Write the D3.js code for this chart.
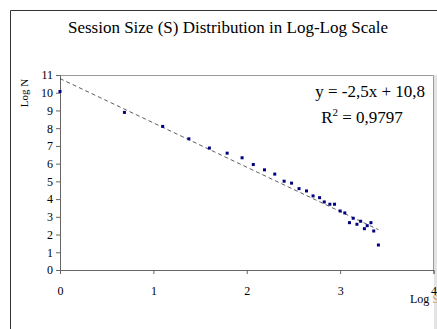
<!DOCTYPE html>
<html lang="en">
<head>
<meta charset="utf-8">
<title>Session Size (S) Distribution in Log-Log Scale</title>
<script src="https://d3js.org/d3.v7.min.js"></script>
<style>
  body { margin: 0; background: #fff; }
  svg text { font-family: "Liberation Serif", "Times New Roman", serif; }
</style>
</head>
<body>
<script>
// data (log S, log N)
const logS = [0, 0.69, 1.10, 1.38, 1.60, 1.79, 1.95, 2.07, 2.19, 2.30,
              2.40, 2.48, 2.56, 2.64, 2.71, 2.78, 2.83, 2.89, 2.94, 3.00,
              3.05, 3.10, 3.14, 3.18, 3.22, 3.26, 3.29, 3.33, 3.36, 3.41];
const logN = [10.07, 8.89, 8.10, 7.40, 6.88, 6.59, 6.33, 5.95, 5.65, 5.41,
              5.01, 4.90, 4.59, 4.46, 4.18, 4.08, 3.84, 3.71, 3.71, 3.33,
              3.22, 2.67, 2.92, 2.58, 2.75, 2.33, 2.50, 2.67, 2.20, 1.41];
const xTicks = [0, 1, 2, 3, 4];
const yTicks = [0, 1, 2, 3, 4, 5, 6, 7, 8, 9, 10, 11];
const slope = -2.5, intercept = 10.8;
const trendRange = [0, 3.41];

const width = 437, height = 329;
const plot = { left: 60, right: 433.5, top: 75, bottom: 270 };

const svg = d3.select("body").append("svg")
  .attr("width", width)
  .attr("height", height);

const x = d3.scaleLinear().domain([0, 4]).range([plot.left, plot.right]);
const y = d3.scaleLinear().domain([0, 11]).range([plot.bottom, plot.top]);

// outer frame (only top and left visible)
svg.append("path")
  .attr("d", `M10.5,${height} V10.5 H${width}`)
  .attr("fill", "none")
  .attr("stroke", "#333");

// light strip on the right edge
svg.append("rect")
  .attr("x", plot.right + 0.5).attr("y", plot.top)
  .attr("width", width - plot.right).attr("height", height - plot.top)
  .attr("fill", "#e4e4e4");

// plot area top and right borders
svg.append("path")
  .attr("d", `M${plot.left},${plot.top + 0.5} H${plot.right} V${plot.bottom}`)
  .attr("fill", "none")
  .attr("stroke", "#999");

// title
svg.append("text")
  .attr("x", 228).attr("y", 33)
  .attr("text-anchor", "middle")
  .attr("font-size", "17px")
  .text("Session Size (S) Distribution in Log-Log Scale");

// axes
const xAxis = svg.append("g")
  .attr("transform", `translate(0,${plot.bottom})`)
  .call(d3.axisBottom(x).tickValues(xTicks).tickSize(4).tickPadding(12).tickFormat(d3.format("d")));
const yAxis = svg.append("g")
  .attr("transform", `translate(${plot.left},0)`)
  .call(d3.axisLeft(y).tickValues(yTicks).tickSize(4).tickPadding(3).tickFormat(d3.format("d")));

[xAxis, yAxis].forEach(g => {
  g.select(".domain").attr("stroke", "#666");
  g.selectAll(".tick line").attr("stroke", "#666");
  g.selectAll(".tick text")
    .attr("font-family", "Liberation Serif, serif")
    .attr("font-size", "12px")
    .attr("fill", "#000");
});

// axis titles
svg.append("text")
  .attr("transform", "translate(28,93) rotate(-90)")
  .attr("text-anchor", "middle")
  .attr("font-size", "11px")
  .text("Log N");

const xt = svg.append("text")
  .attr("x", 410).attr("y", 303)
  .attr("font-size", "12px");
xt.append("tspan").text("Log ");
xt.append("tspan").attr("fill", "#d9a066").text("S");

// trend line
svg.append("line")
  .attr("x1", x(trendRange[0])).attr("y1", y(slope * trendRange[0] + intercept))
  .attr("x2", x(trendRange[1])).attr("y2", y(slope * trendRange[1] + intercept))
  .attr("stroke", "#333")
  .attr("stroke-width", 0.8)
  .attr("stroke-dasharray", "4,3");

// points
svg.selectAll("rect.pt")
  .data(logS.map((s, i) => ({ s, n: logN[i] })))
  .enter()
  .append("rect")
  .attr("class", "pt")
  .attr("x", d => x(d.s) - 1.5)
  .attr("y", d => y(d.n) - 1.5)
  .attr("width", 3)
  .attr("height", 3)
  .attr("fill", "#000080");

// equation
svg.append("text")
  .attr("x", 425).attr("y", 97)
  .attr("text-anchor", "end")
  .attr("font-size", "17px")
  .text("y = -2,5x + 10,8");

const r2 = svg.append("text")
  .attr("x", 362).attr("y", 123)
  .attr("text-anchor", "middle")
  .attr("font-size", "17px");
r2.append("tspan").text("R");
r2.append("tspan").attr("font-size", "11px").attr("dy", -7).text("2");
r2.append("tspan").attr("dy", 7).text(" = 0,9797");
</script>
</body>
</html>
